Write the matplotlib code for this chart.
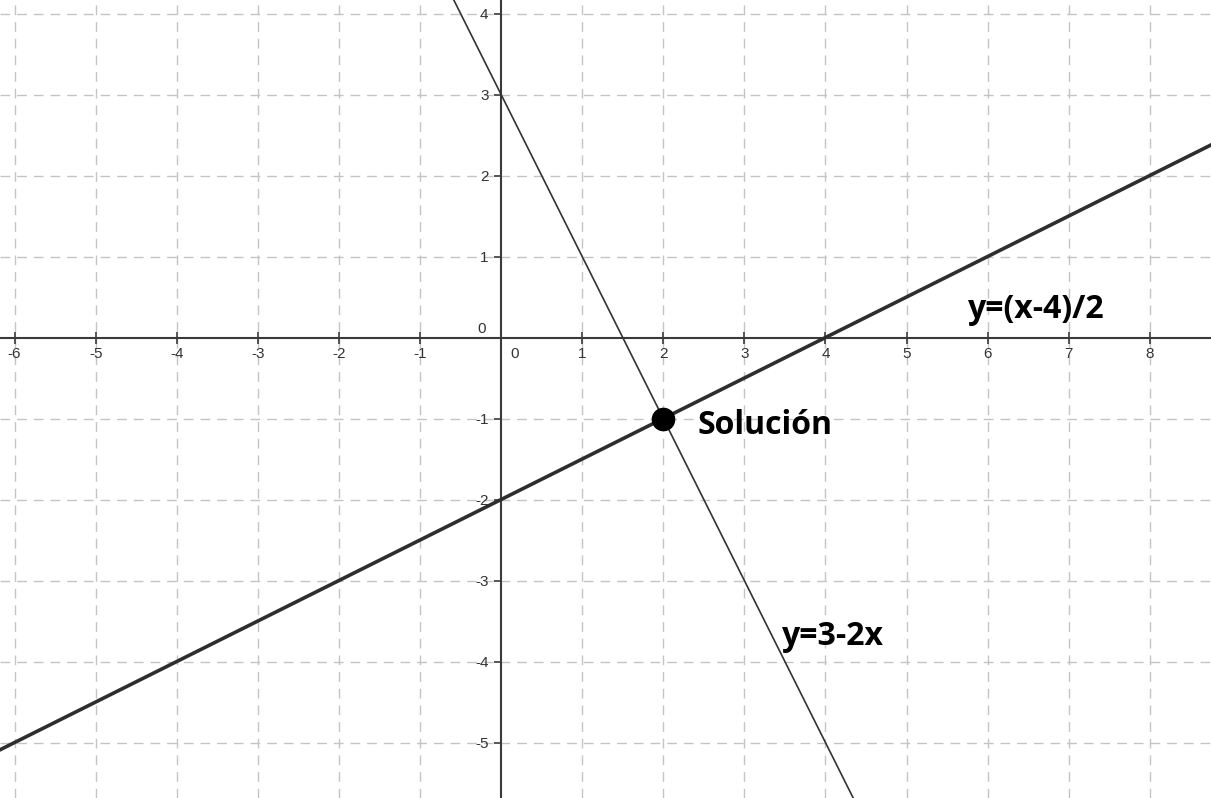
import matplotlib
matplotlib.use("Agg")
import matplotlib.pyplot as plt
import matplotlib.transforms as mtransforms

# lines (two points each)
line1_x = [-7, 9]
line1_y = [-5.5, 2.5]       # y=(x-4)/2
line2_x = [-1, 5]
line2_y = [5, -7]           # y=3-2x
sol_x = [2]
sol_y = [-1]

x_ticks = [-6, -5, -4, -3, -2, -1, 0, 1, 2, 3, 4, 5, 6, 7, 8]
y_ticks = [-5, -4, -3, -2, -1, 0, 1, 2, 3, 4]

fig = plt.figure(figsize=(12.11, 7.98), dpi=100)
ax = fig.add_axes([0, 0, 1, 1])
ax.set_xlim(-6.18, 8.755)
ax.set_ylim(-5.685, 4.167)

axis_col = "#3a3a3a"
grid_col = "#c4c4c4"

# grid
for xv in x_ticks:
    if xv != 0:
        ax.axvline(xv, color=grid_col, lw=1.0, ls=(0, (7, 5)), zorder=1)
for yv in y_ticks:
    if yv != 0:
        ax.axhline(yv, color=grid_col, lw=1.0, ls=(0, (7, 5)), zorder=1)

# axes through origin
for s in ["top", "right"]:
    ax.spines[s].set_visible(False)
ax.spines["left"].set_position(("data", 0))
ax.spines["bottom"].set_position(("data", 0))
for s in ["left", "bottom"]:
    ax.spines[s].set_color(axis_col)
    ax.spines[s].set_linewidth(1.5)
    ax.spines[s].set_zorder(2)

ax.set_xticks(x_ticks)
ax.set_xticklabels([str(v) for v in x_ticks])
ax.set_yticks(y_ticks)
ax.set_yticklabels([str(v) for v in y_ticks])
ax.tick_params(axis="x", direction="inout", length=8, width=1.2, color=axis_col,
               labelsize=11, labelcolor="#333333", pad=3)
ax.tick_params(axis="y", direction="in", length=0, width=1.2, color=axis_col,
               labelsize=11, labelcolor="#333333", pad=9)
for t in ax.get_xticklabels() + ax.get_yticklabels():
    t.set_fontfamily("Liberation Sans")

# y ticks drawn to the left of the axis
ax.plot([0] * len(y_ticks), y_ticks, ls="none", marker=0, ms=5, mew=1.2,
        color=axis_col, zorder=3)

# shift the origin labels
for t in ax.get_xticklabels():
    if t.get_text() == "0":
        t.set_transform(t.get_transform() + mtransforms.ScaledTranslation(14 / 100, 0, fig.dpi_scale_trans))
for t in ax.get_yticklabels():
    if t.get_text() == "0":
        t.set_transform(t.get_transform() + mtransforms.ScaledTranslation(-3 / 100, 10 / 100, fig.dpi_scale_trans))

# the two lines and the solution
ax.plot(line1_x, line1_y, color="#2e2e2e", lw=2.6, zorder=4)
ax.plot(line2_x, line2_y, color="#333333", lw=1.2, zorder=4)
ax.plot(sol_x, sol_y, "o", color="black", ms=16, zorder=5)

lab = dict(fontsize=23, fontweight="bold", family="Open Sans", color="black", va="center", zorder=6)
ax.text(2.42, -1.08, "Solución", **lab)
ax.text(5.76, 0.34, "y=(x-4)/2", **lab)
ax.text(3.46, -3.69, "y=3-2x", **lab)

fig.savefig("out.png", dpi=100)
